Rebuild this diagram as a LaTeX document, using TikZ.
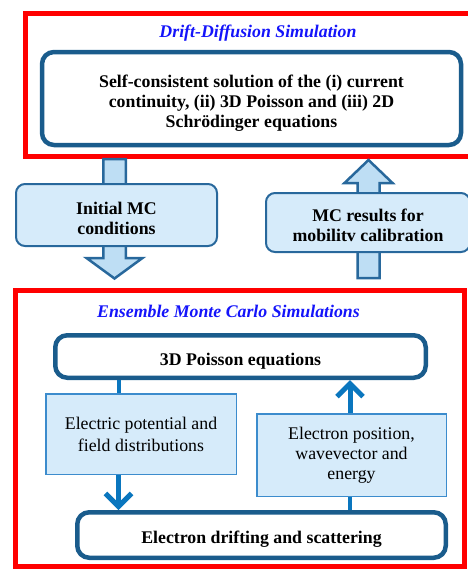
\documentclass[tikz,border=0pt]{standalone}
\usepackage{fontspec}
\setmainfont{Liberation Serif}
\usetikzlibrary{arrows.meta}

\definecolor{frameRed}{RGB}{255,0,0}
\definecolor{boxBlue}{RGB}{26,92,140}
\definecolor{titleBlue}{RGB}{20,20,250}
\definecolor{paleBlue}{RGB}{214,235,250}
\definecolor{arrowFill}{RGB}{190,222,244}
\definecolor{softEdge}{RGB}{40,104,156}
\definecolor{flatEdge}{RGB}{60,140,205}
\definecolor{flowBlue}{RGB}{10,118,190}

% invisible rule that lowers a node's text inside its box
\newcommand{\lowerby}[1]{\rule{0pt}{#1}}

\tikzset{
  redframe/.style={draw=frameRed, line width=5pt},
  sectiontitle/.style={text=titleBlue, font=\fontsize{17.8}{20}\selectfont\bfseries\itshape},
  mainbox/.style={draw=boxBlue, line width=4.5pt, rounded corners=12pt, fill=white,
    align=center, inner sep=0pt, font=\fontsize{17.8}{20}\selectfont\bfseries},
  softbox/.style={draw=softEdge, line width=2pt, rounded corners=9pt, fill=paleBlue,
    align=center, inner sep=0pt, font=\fontsize{17.8}{20}\selectfont\bfseries},
  flatbox/.style={draw=flatEdge, line width=1.5pt, fill=paleBlue,
    align=center, inner sep=0pt, font=\fontsize{17.8}{20}\selectfont},
  blockarrow/.style={draw=softEdge, line width=2.5pt, fill=arrowFill, line join=miter},
  stubline/.style={draw=flowBlue, line width=4pt},
  flow/.style={draw=flowBlue, line width=5pt,
    -{Straight Barb[length=13pt, width=26pt, line width=5pt]}},
}

\begin{document}
\begin{tikzpicture}[x=1pt, y=-1pt]
\useasboundingbox (0,0) rectangle (467,570);

% Drift-diffusion section
\draw[redframe] (25.5,13) rectangle (475,156);
\node[sectiontitle] (ddtitle) at (258,33.5) {Drift-Diffusion Simulation};
\node[mainbox, minimum width=419pt, minimum height=93pt] (dd) at (251.5,98.5)
  {\lowerby{22pt}Self-consistent solution of the (i) current\\continuity, (ii) 3D Poisson and (iii) 2D\\Schrödinger equations};

% Block arrows between the two sections
\draw[blockarrow] (103.25,159) -- (103.25,258) -- (86.5,258) -- (114.5,278.5)
  -- (142.5,258) -- (125.75,258) -- (125.75,159) -- cycle;
\draw[blockarrow] (357.5,278) -- (357.5,183) -- (344.5,183) -- (368.5,160)
  -- (392.5,183) -- (379.5,183) -- (379.5,278) -- cycle;

\node[softbox, minimum width=201pt, minimum height=62pt] (init) at (116.5,215)
  {\lowerby{19pt}Initial MC\\conditions};
\node[softbox, minimum width=204pt, minimum height=59pt] (calib) at (368,222.5)
  {\lowerby{19pt}MC results for\\mobilitv calibration};

% Ensemble Monte Carlo section
\draw[redframe] (15.5,290) rectangle (464.5,566);
\node[sectiontitle] (mctitle) at (228.5,311.5) {Ensemble Monte Carlo Simulations};

\node[mainbox, minimum width=370.5pt, minimum height=42.5pt] (poisson) at (240.5,356.5)
  {\lowerby{22pt}3D Poisson equations};
\node[flatbox, minimum width=190.5pt, minimum height=80.5pt,
      font=\fontsize{17.8}{22}\selectfont] (field) at (141,434)
  {Electric potential and\\field distributions};
\node[flatbox, minimum width=189.5pt, minimum height=82.5pt] (state) at (351.5,455)
  {Electron position,\\wavevector and\\energy};
\node[mainbox, minimum width=368.5pt, minimum height=45.5pt] (drift) at (261.5,535)
  {\lowerby{20pt}Electron drifting and scattering};

% Monte Carlo loop
\coordinate (xl) at (118.5,0);
\coordinate (xr) at (350,0);
\draw[stubline] (xl |- poisson.south) -- (xl |- field.north);
\draw[flow] (xl |- field.south) -- (xl |- drift.north);
\draw[stubline] (xr |- drift.north) -- (xr |- state.south);
\draw[flow] (xr |- state.north) -- (xr |- poisson.south);
\end{tikzpicture}
\end{document}
